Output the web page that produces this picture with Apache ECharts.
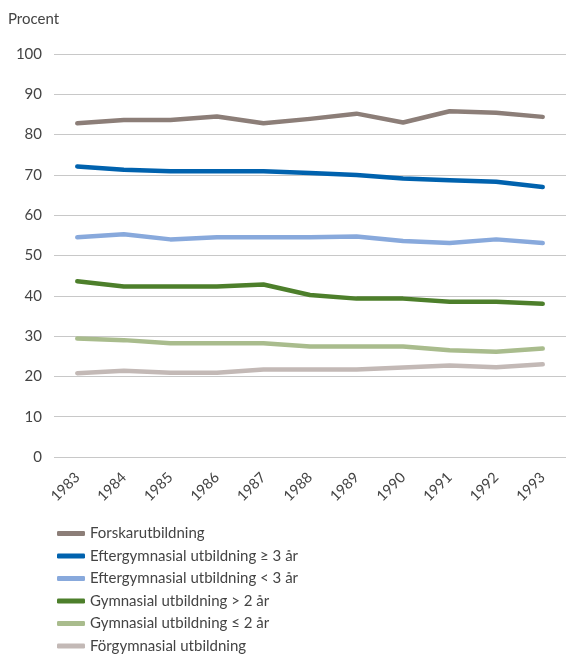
<!DOCTYPE html>
<html lang="sv">
<head>
    <meta charset="UTF-8">
    <title>Procent</title>
    <script src="https://cdn.jsdelivr.net/npm/echarts@6/dist/echarts.min.js"></script>
    <style>
        html, body { margin: 0; padding: 0; background: #fff; }
        #main { width: 566px; height: 654px; }
    </style>
</head>
<body>
<div id="main"></div>
<script>
    // år på x-axeln
    let years = ['1983', '1984', '1985', '1986', '1987', '1988', '1989', '1990', '1991', '1992', '1993'];
    let yTicks = [0, 10, 20, 30, 40, 50, 60, 70, 80, 90, 100];

    let forskar = [82.8, 83.6, 83.6, 84.5, 82.8, 83.9, 85.2, 83.0, 85.8, 85.4, 84.4];
    let efterLang = [72.1, 71.3, 70.9, 70.9, 70.9, 70.5, 70.0, 69.1, 68.7, 68.3, 67.0];
    let efterKort = [54.5, 55.3, 54.0, 54.5, 54.5, 54.5, 54.7, 53.6, 53.1, 54.0, 53.1];
    let gymLang = [43.6, 42.3, 42.3, 42.3, 42.8, 40.2, 39.3, 39.3, 38.5, 38.5, 38.0];
    let gymKort = [29.4, 29.0, 28.2, 28.2, 28.2, 27.4, 27.4, 27.4, 26.5, 26.1, 26.9];
    let forgym = [20.8, 21.4, 20.9, 20.9, 21.7, 21.7, 21.7, 22.2, 22.7, 22.3, 23.0];

    let names = [
        'Forskarutbildning',
        'Eftergymnasial utbildning \u2265 3 år',
        'Eftergymnasial utbildning < 3 år',
        'Gymnasial utbildning > 2 år',
        'Gymnasial utbildning \u2264 2 år',
        'Förgymnasial utbildning'
    ];
    let values = [forskar, efterLang, efterKort, gymLang, gymKort, forgym];
    let colors = ['#8c7e78', '#0062ae', '#88a9dc', '#4d7f2b', '#a9bc8d', '#c3b9b6'];

    let font = 'Lato, "Open Sans", sans-serif';

    let series = names.map((n, i) => ({
        name: n,
        type: 'line',
        data: values[i],
        symbol: 'none',
        smooth: false,
        lineStyle: { width: 4.5, color: colors[i], cap: 'round', join: 'round' },
        itemStyle: { color: colors[i] }
    }));

    let chart = echarts.init(document.getElementById('main'));
    chart.setOption({
        animation: false,
        grid: { left: 54, top: 54, width: 514, height: 403 },
        graphic: [{
            type: 'text', left: 8, top: 12,
            style: { text: 'Procent', fontSize: 15, fontFamily: font, fill: '#444' }
        }],
        xAxis: {
            type: 'category',
            data: years,
            boundaryGap: true,
            axisLine: { show: false },
            axisTick: { show: false },
            axisLabel: { rotate: 45, margin: 18, fontSize: 14.5, color: '#444', fontFamily: font }
        },
        yAxis: {
            type: 'value',
            min: yTicks[0],
            max: yTicks[yTicks.length - 1],
            interval: 10,
            axisLine: { show: false },
            axisTick: { show: false },
            axisLabel: { fontSize: 15, color: '#444', margin: 12, fontFamily: font },
            splitLine: { lineStyle: { color: '#c8c8c8', width: 1 } }
        },
        legend: {
            orient: 'vertical',
            left: 52,
            top: 521,
            height: 200,
            itemGap: 7.5,
            itemWidth: 28,
            itemHeight: 5,
            icon: 'roundRect',
            textStyle: { fontSize: 15, color: '#444', fontFamily: font, lineHeight: 14 },
            data: names
        },
        series: series
    });
</script>
</body>
</html>
